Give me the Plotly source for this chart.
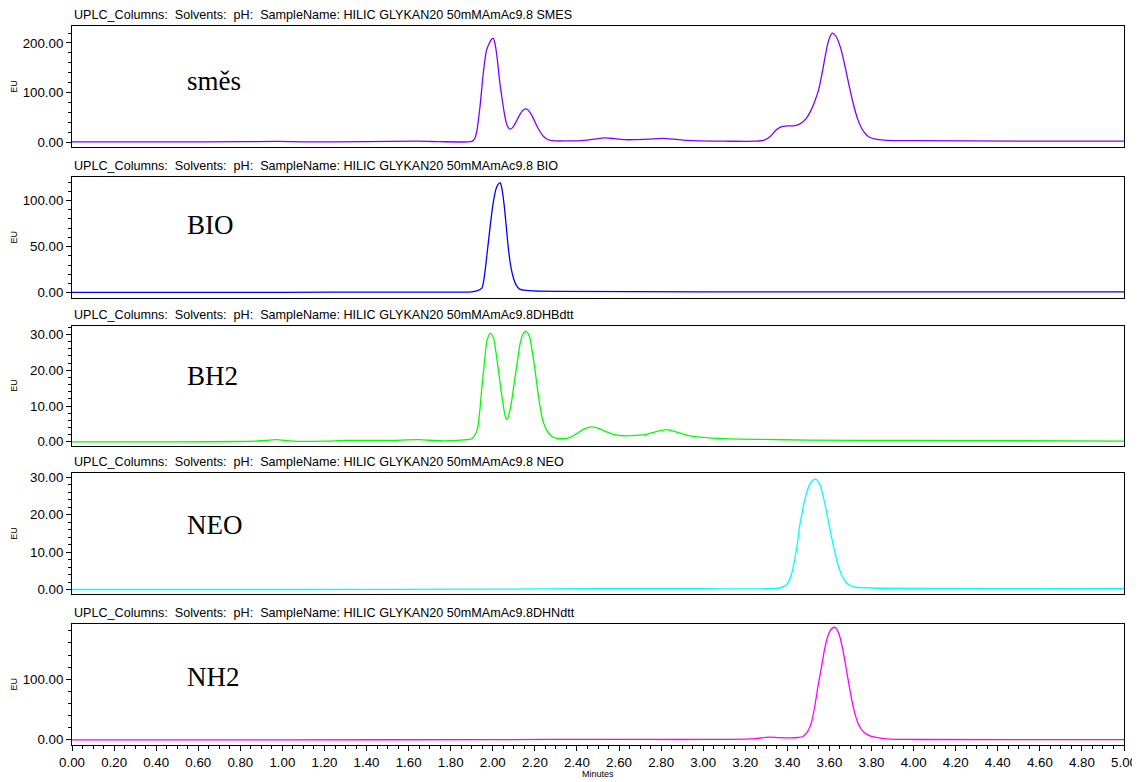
import plotly.graph_objects as go

# ---------------- data ----------------
smes_t = [0.0, 0.5, 0.8, 0.97, 1.1, 1.4, 1.64, 1.75, 1.88, 1.90, 1.915, 1.925, 1.94, 1.956, 1.97, 1.984,
          1.995, 2.003, 2.012, 2.022, 2.032, 2.043, 2.055, 2.067, 2.078, 2.088, 2.10, 2.112, 2.125, 2.14,
          2.155, 2.165, 2.18, 2.195, 2.21, 2.225, 2.24, 2.255, 2.27, 2.30, 2.35, 2.42, 2.48, 2.533, 2.58,
          2.63, 2.67, 2.74, 2.81, 2.86, 2.92, 2.98, 3.10, 3.25, 3.29, 3.32, 3.345, 3.37, 3.40, 3.43, 3.46,
          3.49, 3.51, 3.53, 3.55, 3.57, 3.59, 3.605, 3.613, 3.633, 3.653, 3.673, 3.693, 3.713, 3.733, 3.753,
          3.773, 3.79, 3.82, 3.86, 3.92, 4.0, 4.5, 5.0]
smes_v = [0.5, 0.5, 1.0, 1.5, 0.8, 1.0, 2.0, 1.0, 0.5, 1.5, 8, 25, 75, 144, 185, 200,
          208, 209, 195, 165, 125, 91, 58, 35, 27, 27, 33, 42, 53, 63,
          67, 66, 58, 46, 32, 21, 12, 7, 4, 2.5, 2.5, 3, 6, 8.5, 7,
          5, 5, 6, 7.5, 6, 3.5, 2.5, 2, 2, 4, 12, 24, 31, 33, 33, 37,
          48, 62, 82, 108, 150, 195, 215, 220, 212, 190, 155, 115, 78, 48, 28,
          16, 10, 6, 4, 3, 3, 2, 2]

bio_t = [0.0, 1.0, 1.5, 1.90, 1.924, 1.948, 1.96, 1.972, 1.984, 1.996, 2.006, 2.016, 2.027, 2.035, 2.044,
         2.054, 2.064, 2.074, 2.086, 2.098, 2.112, 2.127, 2.16, 2.19, 2.3, 3.0, 4.0, 5.0]
bio_v = [0.5, 0.5, 0.8, 1, 2, 5, 18, 41, 65, 88, 103, 113, 118, 119.5, 112,
         95, 72, 48, 28, 16, 8, 4, 2.5, 2, 1.5, 1, 1, 1]

bh2_t = [0.0, 0.5, 0.8, 0.9, 0.97, 1.05, 1.2, 1.3, 1.5, 1.65, 1.75, 1.85, 1.90, 1.925, 1.937, 1.948, 1.96,
         1.972, 1.988, 2.003, 2.015, 2.027, 2.039, 2.051, 2.06, 2.068, 2.078, 2.09, 2.103, 2.117, 2.13, 2.142,
         2.158, 2.174, 2.188, 2.201, 2.213, 2.225, 2.24, 2.257, 2.275, 2.296, 2.343, 2.37, 2.399, 2.435, 2.47,
         2.50, 2.541, 2.58, 2.62, 2.68, 2.731, 2.78, 2.826, 2.87, 2.921, 2.97, 3.016, 3.1, 3.253, 3.5, 4.0,
         4.5, 5.0]
bh2_v = [0.0, 0.0, 0.1, 0.3, 0.6, 0.2, 0.2, 0.4, 0.4, 0.6, 0.3, 0.5, 0.9, 3.2, 8, 15.2, 22,
         28.2, 30.3, 29.1, 25, 19.9, 14.5, 9.7, 7, 6.2, 8, 11.6, 17, 22.6, 27.5, 30,
         30.9, 29.5, 25, 19.9, 14.5, 9.7, 5.5, 3.2, 1.8, 1.1, 0.9, 1.3, 2.3, 3.6, 4.2,
         3.8, 2.8, 2.0, 1.7, 1.8, 2.1, 2.9, 3.4, 2.8, 1.9, 1.4, 1.2, 0.9, 0.7, 0.5, 0.4,
         0.3, 0.2]

neo_t = [0.0, 1.0, 2.0, 2.5, 3.0, 3.3, 3.363, 3.385, 3.403, 3.42, 3.435, 3.447, 3.458, 3.475, 3.49, 3.505,
         3.521, 3.534, 3.545, 3.556, 3.57, 3.585, 3.60, 3.616, 3.632, 3.648, 3.664, 3.68, 3.70, 3.727, 3.8,
         4.0, 5.0]
neo_v = [0.0, 0.0, 0.1, 0.2, 0.2, 0.2, 0.4, 0.9, 1.8, 4.2, 8, 12, 16.8, 22, 25.6, 28,
         29.2, 29.5, 29, 27.9, 25, 21.2, 16.8, 12.4, 8.5, 5.3, 3.2, 1.8, 1.0, 0.6, 0.4,
         0.3, 0.2]

nh2_t = [0.0, 1.0, 2.0, 2.6, 2.9, 3.1, 3.2, 3.25, 3.308, 3.36, 3.42, 3.45, 3.474, 3.495, 3.514, 3.53, 3.546,
         3.562, 3.577, 3.593, 3.609, 3.624, 3.636, 3.648, 3.664, 3.68, 3.696, 3.712, 3.728, 3.743, 3.765,
         3.79, 3.83, 3.87, 4.0, 5.0]
nh2_v = [0.0, 0.0, 0.3, 0.8, 0.5, 0.8, 1, 2, 4.4, 3.5, 3.2, 3.8, 5.5, 13, 28, 55, 89,
         120, 150, 172, 183, 186, 182, 172, 148, 117, 85, 56, 35, 22, 12,
         7, 3.5, 1.5, 0.5, 0.3]

titles = ["UPLC_Columns:  Solvents:  pH:  SampleName: HILIC GLYKAN20 50mMAmAc9.8 SMES",
          "UPLC_Columns:  Solvents:  pH:  SampleName: HILIC GLYKAN20 50mMAmAc9.8 BIO",
          "UPLC_Columns:  Solvents:  pH:  SampleName: HILIC GLYKAN20 50mMAmAc9.8DHBdtt",
          "UPLC_Columns:  Solvents:  pH:  SampleName: HILIC GLYKAN20 50mMAmAc9.8 NEO",
          "UPLC_Columns:  Solvents:  pH:  SampleName: HILIC GLYKAN20 50mMAmAc9.8DHNdtt"]
labels = ["směs", "BIO", "BH2", "NEO", "NH2"]
x_ticks = [0.0, 0.2, 0.4, 0.6, 0.8, 1.0, 1.2, 1.4, 1.6, 1.8, 2.0, 2.2, 2.4, 2.6, 2.8,
           3.0, 3.2, 3.4, 3.6, 3.8, 4.0, 4.2, 4.4, 4.6, 4.8, 5.0]

series = [(smes_t, smes_v), (bio_t, bio_v), (bh2_t, bh2_v), (neo_t, neo_v), (nh2_t, nh2_v)]
colors = ["#8000FF", "#0000FF", "#00FF00", "#00FFFF", "#FF00FF"]

# ---------------- layout geometry (page body adds an 8px margin) ----------------
OFF = 8
W = 1132
H = 774
tops = [p - OFF for p in [23.5, 175.5, 325, 474, 626]]
bots = [p - OFF for p in [145, 297, 446.5, 595.5, 747.5]]
yranges = [[-9.6, 233.4], [-5.4, 125.3], [-1.19, 32.5], [-1.19, 31.06], [-8.2, 191]]
ydticks = [100, 50, 10, 10, 100]
yminor = [20, 10, 2, 2, 20]
label_y = [p - OFF for p in [79, 224, 376, 526, 679]]
PL = 64
PW = 1052

fig = go.Figure()
layout = dict(
    width=W, height=H,
    margin=dict(l=PL, r=W - PL - PW, t=0, b=0),
    paper_bgcolor="white", plot_bgcolor="white",
    showlegend=False,
    font=dict(family="Liberation Sans, Arial, sans-serif", size=13, color="black"),
)
annotations = []
for i in range(5):
    n = "" if i == 0 else str(i + 1)
    t, v = series[i]
    fig.add_trace(go.Scatter(x=t, y=v, mode="lines", xaxis="x" + n, yaxis="y" + n,
                             line=dict(color=colors[i], width=1.3, shape="spline", smoothing=0.7),
                             hoverinfo="skip"))
    dom = [1 - bots[i] / H, 1 - tops[i] / H]
    last = (i == 4)
    layout["xaxis" + n] = dict(
        domain=[0, 1], range=[0, 5], anchor="y" + n,
        showline=True, linecolor="black", linewidth=1, mirror=True,
        showgrid=False, zeroline=False,
        tickmode="array", tickvals=x_ticks if last else [],
        ticktext=["%.2f" % x for x in x_ticks] if last else [],
        ticks="outside" if last else "", ticklen=5, tickcolor="black",
        showticklabels=last,
        tickfont=dict(size=13.3),
        minor=dict(dtick=0.05, ticks="outside", ticklen=3, tickcolor="black") if last else dict(ticks=""),
    )
    layout["yaxis" + n] = dict(
        domain=dom, range=yranges[i], anchor="x" + n,
        showline=True, linecolor="black", linewidth=1, mirror=True,
        showgrid=False, zeroline=False,
        dtick=ydticks[i], tick0=0, tickformat=".2f",
        ticks="outside", ticklen=5, tickcolor="black",
        tickfont=dict(size=13.3),
        minor=dict(dtick=yminor[i], tick0=0, ticks="outside", ticklen=3, tickcolor="black"),
    )
    annotations.append(dict(
        text=titles[i].replace(" ", "\u00a0"), xref="paper", yref="paper",
        x=0, y=dom[1], xanchor="left", yanchor="bottom", yshift=2,
        showarrow=False, font=dict(size=12.6, family="Liberation Sans, Arial, sans-serif")))
    annotations.append(dict(
        text="EU", xref="paper", yref="paper", textangle=-90,
        x=-(PL + OFF - 14) / PW, y=(dom[0] + dom[1]) / 2, xanchor="center", yanchor="middle",
        showarrow=False, font=dict(size=9)))
    annotations.append(dict(
        text=labels[i], xref="paper", yref="paper",
        x=(185 - OFF - PL) / PW, y=1 - label_y[i] / H, xanchor="left", yanchor="middle",
        showarrow=False, font=dict(size=27, family="Liberation Serif, Times New Roman, serif")))

annotations.append(dict(text="Minutes", xref="paper", yref="paper", x=0.5, y=1 - (777 - OFF) / H,
                        xanchor="center", yanchor="middle", showarrow=False, font=dict(size=9)))
layout["annotations"] = annotations
fig.update_layout(**layout)
fig.write_html("out.html")
